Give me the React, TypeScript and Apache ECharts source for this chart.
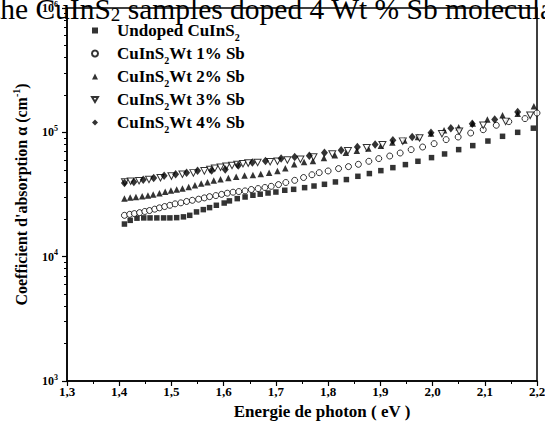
import React, { useEffect, useRef } from "react";
import * as echarts from "echarts";

const FONT = '"Liberation Serif","Times New Roman",Times,serif';

const seriesNames = [
  "Undoped CuInS2",
  "CuInS2Wt 1% Sb",
  "CuInS2Wt 2% Sb",
  "CuInS2Wt 3% Sb",
  "CuInS2Wt 4% Sb",
];

// [photon energy (eV), absorption coefficient (cm^-1)]
const undoped: [number, number][] = [
  [1.41, 18300], [1.421, 19600], [1.434, 20400], [1.447, 20500], [1.459, 20500],
  [1.472, 20500], [1.485, 20500], [1.497, 20500], [1.51, 20600], [1.523, 20900],
  [1.535, 21500], [1.548, 22900], [1.561, 23900], [1.573, 24800], [1.586, 25900],
  [1.601, 27000], [1.611, 28100], [1.626, 29300], [1.641, 30200], [1.656, 31200],
  [1.67, 31800], [1.685, 32500], [1.7, 33100], [1.717, 34200], [1.734, 34800],
  [1.755, 35900], [1.773, 37000], [1.793, 38200], [1.814, 39900], [1.835, 41700],
  [1.857, 44300], [1.879, 46600], [1.901, 49200], [1.924, 52000], [1.948, 55000],
  [1.972, 58500], [1.998, 62600], [2.023, 67000], [2.05, 72600], [2.077, 78200],
  [2.106, 85100], [2.134, 92900], [2.163, 100000], [2.193, 108000],
];

const sb1: [number, number][] = [
  [1.41, 21500], [1.42, 21900], [1.429, 22200], [1.439, 22600], [1.449, 23100],
  [1.458, 23500], [1.468, 24100], [1.477, 24700], [1.487, 25300], [1.497, 25900],
  [1.507, 26600], [1.518, 27100], [1.529, 27800], [1.54, 28400], [1.552, 29000],
  [1.563, 29700], [1.573, 30400], [1.585, 31000], [1.596, 31700], [1.607, 32400],
  [1.618, 33000], [1.629, 33400], [1.641, 33800], [1.653, 34700], [1.666, 35300],
  [1.679, 36000], [1.691, 36800], [1.705, 38000], [1.719, 39500], [1.736, 41100],
  [1.753, 43300], [1.769, 45600], [1.783, 47400], [1.8, 48900], [1.82, 51100],
  [1.839, 53000], [1.858, 55300], [1.878, 58500], [1.897, 61500], [1.918, 64500],
  [1.938, 68200], [1.959, 72600], [1.981, 76200], [2.003, 81100], [2.026, 87400],
  [2.049, 91700], [2.073, 98700], [2.097, 105000], [2.122, 114000], [2.146, 122000],
  [2.177, 129000], [2.2, 143000],
];

const sb2: [number, number][] = [
  [1.41, 29300], [1.421, 29900], [1.432, 30200], [1.444, 30600], [1.455, 31000],
  [1.465, 31600], [1.477, 32400], [1.488, 33200], [1.499, 34100], [1.51, 34700],
  [1.521, 35300], [1.533, 36400], [1.545, 37500], [1.557, 38700], [1.569, 39600],
  [1.581, 40900], [1.594, 41900], [1.609, 42900], [1.624, 44000], [1.64, 44900],
  [1.656, 45400], [1.671, 46200], [1.687, 47400], [1.703, 48900], [1.718, 51400],
  [1.735, 55300], [1.754, 57700], [1.771, 58900], [1.792, 62200], [1.813, 65500],
  [1.834, 68500], [1.855, 71000], [1.877, 74000], [1.901, 78000], [1.923, 83000],
  [1.946, 86000], [1.972, 91700], [1.997, 98000], [2.022, 104000], [2.05, 110000],
  [2.077, 118000], [2.105, 127000], [2.134, 137000], [2.163, 141000], [2.194, 162000],
];

const sb3: [number, number][] = [
  [1.411, 39900], [1.422, 40400], [1.438, 40800], [1.457, 41800], [1.479, 43100],
  [1.5, 44500], [1.521, 46000], [1.542, 47200], [1.563, 49000], [1.574, 50300],
  [1.583, 51400], [1.594, 52400], [1.605, 53400], [1.616, 54100], [1.626, 55200],
  [1.637, 55900], [1.647, 56600], [1.665, 57300], [1.689, 58100], [1.703, 58500],
  [1.722, 60000], [1.747, 60800], [1.772, 63300], [1.808, 67000], [1.838, 71200],
  [1.874, 75300], [1.904, 79500], [1.943, 85000], [1.975, 90000], [2.018, 97600],
  [2.051, 102000], [2.097, 114000], [2.14, 122500], [2.187, 137000],
];

const sb4: [number, number][] = [
  [1.41, 39200], [1.428, 39900], [1.446, 41600], [1.466, 42900], [1.486, 44700],
  [1.508, 46000], [1.529, 47400], [1.55, 49000], [1.577, 49300], [1.603, 50300],
  [1.628, 54000], [1.655, 57100], [1.68, 58900], [1.71, 61500], [1.736, 63300],
  [1.764, 64700], [1.793, 68500], [1.825, 71600], [1.856, 76200], [1.89, 80000],
  [1.924, 86300], [1.961, 91700], [1.997, 99400], [2.035, 108000], [2.076, 117000],
  [2.119, 127000], [2.163, 146000],
];

const xMin = 1.3;
const xMax = 2.2;
const xStep = 0.1;
const yMin = 1000;
const yMax = 1000000;
const minorDecades = [3, 4, 5];
const minorMultipliers = [2, 3, 4, 5, 6, 7, 8, 9];

const captionParts = ["the CuInS", "2", " samples doped 4 Wt % Sb molecular"];
const xAxisTitle = "Energie de photon ( eV )";
const yAxisTitleParts = ["Coefficient d'absorption \u03b1 (cm", "-1", ")"];

// downward-pointing triangle symbol (native size matches the legend icon)
const DOWN_TRIANGLE = "path://M0,0 L6.6,0 L3.3,5.7 Z";

export default function App() {
  const ref = useRef<HTMLDivElement>(null);

  useEffect(() => {
    if (!ref.current) return;
    const chart = echarts.init(ref.current, undefined, { renderer: "svg" });

    const minorValues = minorDecades.flatMap((d) =>
      minorMultipliers.map((m) => m * Math.pow(10, d))
    );

    const black = "#000";
    const hollow = { color: "#fff", borderColor: black, borderWidth: 1 };
    const filled = { color: black };

    const legendFormatter = (name: string) => {
      const i = name.indexOf("CuInS2");
      const pre = name.slice(0, i);
      const post = name.slice(i + 6);
      return (
        "{g| }" +
        (pre ? `{b|${pre}}` : "") +
        "{b|CuInS}{s|2}" +
        (post ? `{b|${post}}` : "")
      );
    };

    const option: any = {
      animation: false,
      backgroundColor: "#fff",
      grid: {
        left: 67,
        right: 8,
        top: 8,
        bottom: 49,
        show: true,
        borderColor: black,
        borderWidth: 1.5,
        containLabel: false,
        outerBoundsMode: "none",
      },
      legend: {
        orient: "vertical",
        left: 91,
        top: 19,
        padding: 0,
        itemWidth: 6,
        itemHeight: 6,
        itemGap: 0,
        selectedMode: false,
        data: seriesNames,
        formatter: legendFormatter,
        textStyle: {
          color: black,
          rich: {
            g: { width: 14, fontSize: 10 },
            b: {
              fontFamily: FONT,
              fontWeight: "bold",
              fontSize: 17,
              lineHeight: 19,
              color: black,
            },
            s: {
              fontFamily: FONT,
              fontWeight: "bold",
              fontSize: 10,
              lineHeight: 10,
              padding: [13, 0, 0, 0],
              color: black,
            },
          },
        },
      },
      xAxis: {
        type: "value",
        min: xMin,
        max: xMax,
        interval: xStep,
        name: xAxisTitle,
        nameLocation: "middle",
        nameGap: 22,
        nameTextStyle: {
          fontFamily: FONT,
          fontWeight: "bold",
          fontSize: 17,
          color: black,
          padding: [0, 0, 0, 40],
        },
        axisLine: { show: true, lineStyle: { color: black, width: 1.5 } },
        axisTick: { show: true, length: 5, lineStyle: { color: black, width: 1.2 } },
        minorTick: { show: true, splitNumber: 2, length: 3, lineStyle: { color: black, width: 1 } },
        splitLine: { show: false },
        axisLabel: {
          margin: 4,
          fontFamily: FONT,
          fontWeight: "bold",
          fontSize: 13,
          color: black,
          formatter: (v: number) => v.toFixed(1).replace(".", ","),
        },
      },
      yAxis: [
        {
          type: "log",
          logBase: 10,
          min: yMin,
          max: yMax,
          name:
            "{b|" + yAxisTitleParts[0] + "}{p|" + yAxisTitleParts[1] + "}{b|" + yAxisTitleParts[2] + "}",
          nameLocation: "middle",
          nameGap: 36,
          nameRotate: 90,
          nameTextStyle: {
            color: black,
            rich: {
              b: { fontFamily: FONT, fontWeight: "bold", fontSize: 16, lineHeight: 18, color: black },
              p: {
                fontFamily: FONT,
                fontWeight: "bold",
                fontSize: 10,
                lineHeight: 10,
                padding: [0, 0, 10, 0],
                color: black,
              },
            },
          },
          axisLine: { show: true, lineStyle: { color: black, width: 1.5 } },
          axisTick: { show: true, length: 5, lineStyle: { color: black, width: 1.2 } },
          splitLine: { show: false },
          axisLabel: {
            margin: 9,
            color: black,
            formatter: (v: number) => `{b|10}{p|${Math.round(Math.log10(v))}}`,
            rich: {
              b: { fontFamily: FONT, fontWeight: "bold", fontSize: 12, lineHeight: 14, color: black },
              p: {
                fontFamily: FONT,
                fontWeight: "bold",
                fontSize: 8,
                lineHeight: 8,
                padding: [0, 0, 8, 0],
                color: black,
              },
            },
          },
        },
        {
          type: "log",
          logBase: 10,
          min: yMin,
          max: yMax,
          position: "left",
          axisLine: { show: false },
          axisLabel: { show: false },
          splitLine: { show: false },
          axisTick: {
            show: true,
            length: 3,
            customValues: minorValues,
            lineStyle: { color: black, width: 1 },
          },
        },
      ],
      graphic: [
        {
          type: "text",
          left: -8,
          top: -7,
          z: 100,
          style: {
            text:
              "{a|" + captionParts[0] + "}{s|" + captionParts[1] + "}{a|" + captionParts[2] + "}",
            fill: black,
            rich: {
              a: { fontFamily: FONT, fontSize: 29.5, lineHeight: 31, fill: black },
              s: {
                fontFamily: FONT,
                fontSize: 19,
                lineHeight: 19,
                padding: [12, 0, 0, 0],
                fill: black,
              },
            },
          },
        },
      ],
      series: [
        {
          name: seriesNames[0],
          type: "scatter",
          data: undoped,
          symbol: "rect",
          symbolSize: 5.5,
          itemStyle: filled,
          clip: false,
        },
        {
          name: seriesNames[1],
          type: "scatter",
          data: sb1,
          symbol: "circle",
          symbolSize: 6,
          itemStyle: hollow,
          clip: false,
        },
        {
          name: seriesNames[2],
          type: "scatter",
          data: sb2,
          symbol: "triangle",
          symbolSize: 6.5,
          itemStyle: filled,
          clip: false,
        },
        {
          name: seriesNames[3],
          type: "scatter",
          data: sb3,
          symbol: DOWN_TRIANGLE,
          symbolSize: [7, 6.5],
          itemStyle: hollow,
          clip: false,
        },
        {
          name: seriesNames[4],
          type: "scatter",
          data: sb4,
          symbol: "diamond",
          symbolSize: [7, 8.5],
          itemStyle: filled,
          clip: false,
        },
      ],
    };

    chart.setOption(option);
    return () => chart.dispose();
  }, []);

  return (
    <div
      ref={ref}
      style={{ position: "fixed", left: 0, top: 0, width: 545, height: 430, background: "#fff" }}
    />
  );
}
